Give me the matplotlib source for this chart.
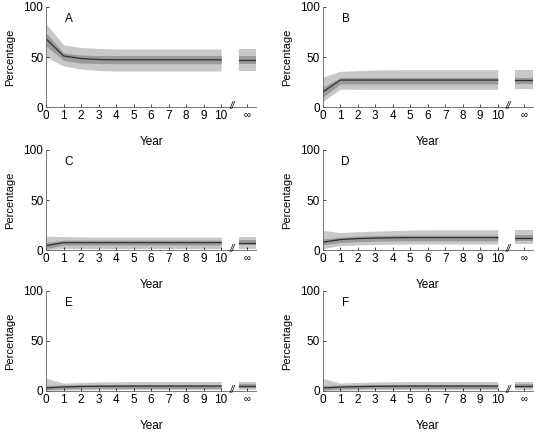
"""Six-panel percentage-by-year figure with median, inner and outer bands."""
import matplotlib

matplotlib.use("Agg")
import matplotlib.pyplot as plt

plt.rcParams["font.family"] = ["Liberation Sans", "DejaVu Sans"]

YEARS = list(range(11))
INF_X = 11.5
LABELS = ["A", "B", "C", "D", "E", "F"]

# panel A
A_MED = [68, 51, 48.5, 47.5, 47.2, 47.2, 47.2, 47.2, 47.2, 47.2, 47.2]
A_IN_LO = [61, 46.5, 44, 43.5, 43.3, 43.3, 43.3, 43.3, 43.3, 43.3, 43.3]
A_IN_HI = [74, 54, 52, 51.5, 51.5, 51.5, 51.5, 51.5, 51.5, 51.5, 51.5]
A_OUT_LO = [50, 41, 38, 36.5, 36, 36, 36, 36, 36, 36, 36]
A_OUT_HI = [83, 62, 59.5, 58.5, 58, 58, 58, 58, 58, 58, 58]
A_INF = [47.2, 43.3, 51.5, 36, 58]

# panel B
B_MED = [15, 27, 27, 27, 27, 27, 27, 27, 27, 27, 27]
B_IN_LO = [10, 23, 23, 23, 23, 23, 23, 23, 23, 23, 23]
B_IN_HI = [20, 29.5, 29.5, 29.5, 29.5, 29.5, 29.5, 29.5, 29.5, 29.5, 29.5]
B_OUT_LO = [5.5, 18, 17.8, 17.7, 17.7, 17.7, 17.7, 17.7, 17.7, 17.7, 17.7]
B_OUT_HI = [30, 35.7, 36.5, 37, 37.3, 37.4, 37.4, 37.4, 37.4, 37.4, 37.4]
B_INF = [27, 23, 29.5, 17.7, 37.4]

# panel C
C_MED = [4.5, 7.5, 7.5, 7.5, 7.5, 7.5, 7.5, 7.5, 7.5, 7.5, 7.5]
C_IN_LO = [1.5, 5, 5, 5, 5, 5, 5, 5, 5, 5, 5]
C_IN_HI = [7.5, 10, 10, 10, 10, 10, 10, 10, 10, 10, 10]
C_OUT_LO = [0.5, 1.5, 1.5, 1.5, 1.5, 1.5, 1.5, 1.5, 1.5, 1.5, 1.5]
C_OUT_HI = [14, 13.5, 13.2, 13, 13, 13, 13, 13, 13, 13, 13]
C_INF = [7.5, 5, 10, 1.5, 13]

# panel D
D_MED = [8, 10.5, 11.5, 12, 12.3, 12.5, 12.5, 12.5, 12.5, 12.5, 12.5]
D_IN_LO = [5.5, 7.5, 8.5, 9, 9.2, 9.3, 9.3, 9.3, 9.3, 9.3, 9.3]
D_IN_HI = [11, 13, 14, 14.5, 14.8, 15, 15, 15, 15, 15, 15]
D_OUT_LO = [1.5, 4.5, 5.2, 5.6, 5.9, 6, 6, 6, 6, 6, 6]
D_OUT_HI = [19.7, 17.5, 18.3, 19, 19.5, 20, 20.2, 20.3, 20.3, 20.3, 20.3]
D_INF = [12.5, 9.3, 15, 6, 20.3]

# panel E
E_MED = [3, 4, 4.5, 4.7, 4.8, 4.9, 4.9, 4.9, 4.9, 4.9, 4.9]
E_IN_LO = [1.2, 2, 2.3, 2.5, 2.5, 2.5, 2.5, 2.5, 2.5, 2.5, 2.5]
E_IN_HI = [5.5, 6, 6.3, 6.5, 6.5, 6.5, 6.5, 6.5, 6.5, 6.5, 6.5]
E_OUT_LO = [0.3, 0.8, 1, 1.2, 1.3, 1.3, 1.3, 1.3, 1.3, 1.3, 1.3]
E_OUT_HI = [12.7, 7.8, 8.5, 9, 9.2, 9.4, 9.4, 9.4, 9.4, 9.4, 9.4]
E_INF = [4.9, 2.5, 6.5, 1.3, 9.4]

# panel F
F_MED = [3, 3.8, 4.3, 4.6, 4.8, 4.9, 4.9, 4.9, 4.9, 4.9, 4.9]
F_IN_LO = [1.2, 2, 2.3, 2.5, 2.5, 2.5, 2.5, 2.5, 2.5, 2.5, 2.5]
F_IN_HI = [5.5, 6, 6.3, 6.5, 6.5, 6.5, 6.5, 6.5, 6.5, 6.5, 6.5]
F_OUT_LO = [0.3, 0.8, 1, 1.2, 1.3, 1.3, 1.3, 1.3, 1.3, 1.3, 1.3]
F_OUT_HI = [12.5, 8, 8.5, 9, 9.2, 9.4, 9.4, 9.4, 9.4, 9.4, 9.4]
F_INF = [4.9, 2.5, 6.5, 1.3, 9.4]

PANELS = [
    (A_MED, A_IN_LO, A_IN_HI, A_OUT_LO, A_OUT_HI, A_INF),
    (B_MED, B_IN_LO, B_IN_HI, B_OUT_LO, B_OUT_HI, B_INF),
    (C_MED, C_IN_LO, C_IN_HI, C_OUT_LO, C_OUT_HI, C_INF),
    (D_MED, D_IN_LO, D_IN_HI, D_OUT_LO, D_OUT_HI, D_INF),
    (E_MED, E_IN_LO, E_IN_HI, E_OUT_LO, E_OUT_HI, E_INF),
    (F_MED, F_IN_LO, F_IN_HI, F_OUT_LO, F_OUT_HI, F_INF),
]

OUTER = "#c8c8c8"
INNER = "#9a9a9a"
LINE = "#303030"
FS = 8.5

fig = plt.figure(figsize=(5.37, 4.32), dpi=100)
lefts = (0.086, 0.601)
bottoms = (0.752, 0.421, 0.095)
w, h = 0.391, 0.232

for i, (label, (med, in_lo, in_hi, out_lo, out_hi, inf)) in enumerate(zip(LABELS, PANELS)):
    ax = fig.add_axes([lefts[i % 2], bottoms[i // 2], w, h])
    ax.fill_between(YEARS, out_lo, out_hi, color=OUTER, lw=0)
    ax.fill_between(YEARS, in_lo, in_hi, color=INNER, lw=0)
    ax.plot(YEARS, med, color=LINE, lw=0.9)
    m, il, ih, ol, oh = inf
    ax.fill_between([11, 12], [ol, ol], [oh, oh], color=OUTER, lw=0)
    ax.fill_between([11, 12], [il, il], [ih, ih], color=INNER, lw=0)
    ax.plot([11, 12], [m, m], color=LINE, lw=0.9)

    ax.set_xlim(0, 12)
    ax.set_ylim(0, 100)
    ax.set_xticks(YEARS + [INF_X], [str(y) for y in YEARS] + ["\u221e"])
    ax.set_yticks([0, 50, 100])
    ax.tick_params(direction="in", length=2, width=0.5, labelsize=FS, pad=2)
    ax.get_xticklabels()[-1].set_fontsize(FS - 1.5)
    for s in ("top", "right"):
        ax.spines[s].set_visible(False)
    for s in ("left", "bottom"):
        ax.spines[s].set_linewidth(0.6)
        ax.spines[s].set_color("#606060")
    ax.text(10.62, 1, "//", fontsize=7, ha="center", va="center",
            style="italic", clip_on=False)
    ax.text(1.3, 88, label, fontsize=FS, ha="center", va="center")
    ax.set_xlabel("Year", fontsize=FS, labelpad=10)
    ax.set_ylabel("Percentage", fontsize=8, labelpad=6)

fig.savefig("out.png", dpi=100)
